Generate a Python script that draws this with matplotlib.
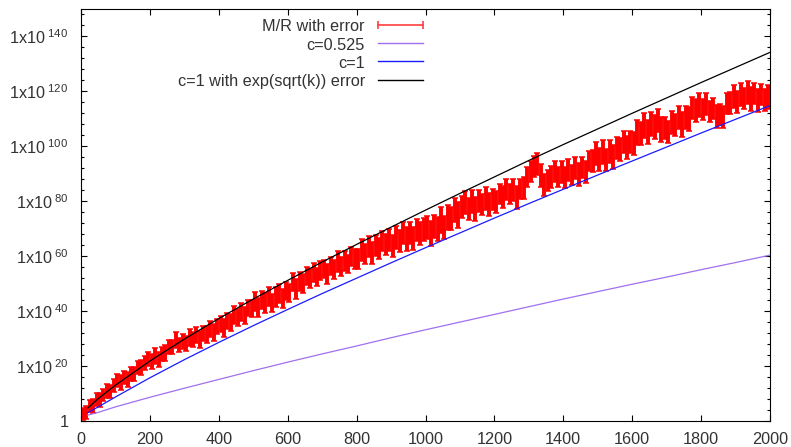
import numpy as np
import matplotlib
matplotlib.use("Agg")
import matplotlib.pyplot as plt
from matplotlib.lines import Line2D
from matplotlib.ticker import FixedLocator, FixedFormatter, NullFormatter

plt.rcParams['font.family'] = ['Liberation Sans', 'DejaVu Sans']
plt.rcParams['mathtext.fontset'] = 'custom'
plt.rcParams['mathtext.rm'] = 'Liberation Sans'
plt.rcParams['mathtext.it'] = 'Liberation Sans'
plt.rcParams['mathtext.default'] = 'regular'

# ---- data (values are decimal exponents, y = 10**value) ----
k_data = list(range(5, 2000, 10))
mr_exp = [
    2.5, 2.9, 5.4, 5.4, 7.8, 7.5, 9.4, 10.9, 10.5, 12.8,
    14.6, 13.9, 15.7, 15.0, 17.0, 17.0, 19.5, 19.3, 21.1, 22.5,
    21.5, 23.5, 22.4, 24.4, 24.6, 26.9, 26.8, 29.3, 27.5, 28.9,
    28.2, 30.3, 29.5, 31.3, 29.6, 31.7, 31.4, 33.5, 32.1, 34.2,
    35.3, 33.8, 36.2, 35.6, 38.4, 37.5, 39.5, 38.4, 41.0, 40.9,
    43.4, 41.2, 43.9, 42.8, 45.2, 42.9, 45.0, 46.4, 44.5, 47.2,
    46.5, 50.5, 47.9, 50.7, 49.9, 52.7, 51.9, 54.0, 52.3, 54.7,
    55.3, 53.4, 56.5, 55.2, 58.0, 56.1, 58.2, 57.1, 59.9, 59.0,
    58.9, 62.1, 60.7, 63.6, 61.0, 63.8, 62.7, 65.5, 64.1, 65.8,
    63.8, 66.8, 65.5, 68.4, 66.2, 68.2, 66.3, 69.4, 68.2, 69.6,
    70.4, 68.2, 70.9, 69.9, 73.1, 70.4, 74.1, 73.6, 76.6, 74.9,
    77.9, 79.5, 77.1, 79.9, 77.1, 79.9, 78.7, 80.9, 78.6, 80.5,
    79.7, 82.6, 81.5, 84.3, 82.6, 84.1, 81.3, 84.4, 84.8, 88.7,
    90.7, 92.6, 93.5, 89.4, 85.8, 87.5, 88.7, 90.8, 88.8, 90.5,
    88.5, 91.3, 89.5, 91.9, 89.8, 92.3, 90.6, 94.6, 94.7, 97.5,
    95.1, 97.8, 95.0, 97.9, 96.0, 99.3, 98.8, 101.5, 99.5, 101.6,
    101.0, 105.0, 104.5, 107.6, 105.2, 108.1, 107.0, 109.5, 106.1, 106.6,
    105.2, 108.6, 107.6, 110.4, 107.9, 110.4, 110.0, 113.8, 113.0, 115.1,
    113.3, 115.3, 112.7, 113.7, 110.8, 111.5, 110.5, 115.6, 115.8, 118.2,
    116.2, 119.0, 117.3, 119.6, 117.1, 119.2, 116.8, 118.9, 116.8, 117.9,
]
mr_err = [
    2.2, 2.4, 2.1, 2.5, 2.3, 2.4, 2.2, 2.5, 2.3, 2.4,
    2.5, 2.6, 2.4, 2.7, 2.5, 2.6, 2.4, 2.7, 2.5, 2.6,
    2.6, 2.8, 2.7, 2.5, 2.8, 2.6, 2.7, 2.9, 2.6, 2.8,
    2.8, 3.0, 2.7, 2.9, 3.1, 2.8, 3.0, 2.9, 3.1, 2.8,
    3.0, 3.2, 2.9, 3.1, 3.3, 3.0, 3.2, 3.1, 2.9, 3.2,
    3.3, 3.5, 3.2, 3.6, 3.4, 3.3, 3.6, 3.4, 3.5, 3.3,
    3.2, 3.4, 3.6, 3.3, 3.5, 3.2, 3.4, 3.6, 3.3, 3.5,
    3.4, 3.6, 3.3, 3.5, 3.7, 3.4, 3.6, 3.3, 3.5, 3.7,
    3.7, 3.9, 3.6, 3.8, 4.0, 3.7, 3.9, 3.6, 3.8, 4.0,
    4.0, 4.2, 3.9, 4.1, 4.3, 4.0, 4.2, 3.9, 4.1, 4.3,
    4.3, 4.5, 4.2, 4.4, 4.6, 4.3, 4.5, 4.2, 4.4, 4.6,
    4.0, 4.2, 3.9, 4.1, 4.3, 4.0, 3.8, 4.1, 4.2, 3.9,
    3.9, 3.7, 4.0, 3.8, 3.6, 3.9, 4.1, 3.8, 4.0, 3.7,
    3.8, 4.0, 3.9, 4.2, 4.0, 3.8, 4.1, 3.9, 3.7, 4.0,
    3.9, 4.1, 3.8, 4.0, 4.2, 3.9, 4.1, 3.8, 4.0, 4.2,
    4.1, 4.3, 4.0, 4.2, 4.4, 4.1, 4.3, 4.0, 4.2, 4.1,
    4.3, 4.5, 4.2, 4.6, 4.4, 4.3, 4.5, 4.2, 4.4, 4.1,
    4.1, 4.3, 4.0, 4.2, 4.4, 4.1, 4.3, 4.0, 4.2, 4.4,
    3.8, 4.0, 3.7, 3.9, 4.1, 3.8, 4.0, 3.7, 3.9, 4.1,
    4.0, 4.2, 3.9, 4.1, 4.3, 4.0, 4.2, 3.9, 4.1, 4.3,
]

k_line = [20, 50, 100, 200, 300, 400, 500, 600, 700, 800, 900, 1000,
          1100, 1200, 1300, 1400, 1500, 1600, 1700, 1800, 1900, 2000]
c0525_exp = [2.0, 3.0, 5.0, 8.5, 11.8, 15.0, 18.2, 21.3, 24.3, 27.2, 30.2, 33.1,
             35.9, 38.7, 41.5, 44.3, 47.0, 49.7, 52.3, 55.0, 57.6, 60.3]
c1_exp = [2.9, 5.0, 8.6, 15.6, 22.2, 28.5, 34.6, 40.5, 46.3, 51.9, 57.5, 63.0,
          68.4, 73.8, 79.1, 84.3, 89.5, 94.6, 99.7, 104.8, 109.8, 114.8]
c1err_exp = [4.6, 8.0, 12.9, 21.7, 29.7, 37.2, 44.3, 51.1, 57.8, 64.2, 70.5, 76.7,
             82.8, 88.8, 94.8, 100.6, 106.3, 112.0, 117.6, 123.2, 128.7, 134.2]

labels = ["M/R with error", "c=0.525", "c=1", "c=1 with exp(sqrt(k)) error"]
ytick_exps = [0, 20, 40, 60, 80, 100, 120, 140]
xticks = list(range(0, 2001, 200))

# ---- figure ----
fig = plt.figure(figsize=(7.91, 4.47), dpi=100)
ax = fig.add_axes([81 / 791, 26.4 / 447, 689 / 791, 411.6 / 447])

TXT = '#333333'

y = 10.0 ** np.array(mr_exp)
e = np.array(mr_err)
yerr = np.vstack([y - y / 10.0 ** e, y * 10.0 ** e - y])
ax.errorbar(k_data, y, yerr=yerr, fmt='none', ecolor='#ff0000',
            elinewidth=2.8, capsize=2.5, capthick=1.1, zorder=2)

ax.plot(k_line, 10.0 ** np.array(c0525_exp), color='#a070f0', lw=0.9, zorder=3)
ax.plot(k_line, 10.0 ** np.array(c1_exp), color='#1a1aff', lw=0.9, zorder=3)
ax.plot(k_line, 10.0 ** np.array(c1err_exp), color='black', lw=0.9, zorder=3)

ax.set_yscale('log')
ax.set_xlim(0, 2000)
ax.set_ylim(1, 1e150)

ax.yaxis.set_major_locator(FixedLocator([10.0 ** v for v in ytick_exps]))
ax.yaxis.set_major_formatter(FixedFormatter(
    ['1' if v == 0 else r'1x10$^{\ %d}$' % v for v in ytick_exps]))
ax.yaxis.set_minor_locator(FixedLocator([10.0 ** v for v in range(0, 151, 4) if v % 20]))
ax.yaxis.set_minor_formatter(NullFormatter())
ax.set_xticks(xticks)
ax.set_xticklabels([str(v) for v in xticks])

ax.tick_params(which='both', direction='in', top=True, right=True, colors='black',
               labelcolor=TXT, labelsize=11.7, width=0.8)
ax.tick_params(which='major', length=4.5)
ax.tick_params(which='minor', length=2.3)
ax.tick_params(axis='y', pad=9)
ax.tick_params(axis='x', pad=8)
for s in ax.spines.values():
    s.set_linewidth(0.8)
    s.set_color('black')

handles = [
    Line2D([], [], color='#ff4040', lw=1.2, marker='|', markersize=6, markeredgewidth=1.2),
    Line2D([], [], color='#a070f0', lw=1.0),
    Line2D([], [], color='#1a1aff', lw=1.0),
    Line2D([], [], color='black', lw=1.0),
]
leg = ax.legend(handles, labels, loc='upper right', bbox_to_anchor=(0.504, 0.975),
                frameon=False, markerfirst=False, numpoints=2, fontsize=11.7,
                handlelength=3.4, handletextpad=0.5, labelspacing=0.2,
                borderpad=0, borderaxespad=0)
for t in leg.get_texts():
    t.set_color(TXT)
try:
    vp = leg._legend_box._children[-1]._children[0]
    for c in vp._children:
        c.align = 'right'
    vp.align = 'right'
except Exception:
    pass

fig.savefig('out.png', dpi=100)
